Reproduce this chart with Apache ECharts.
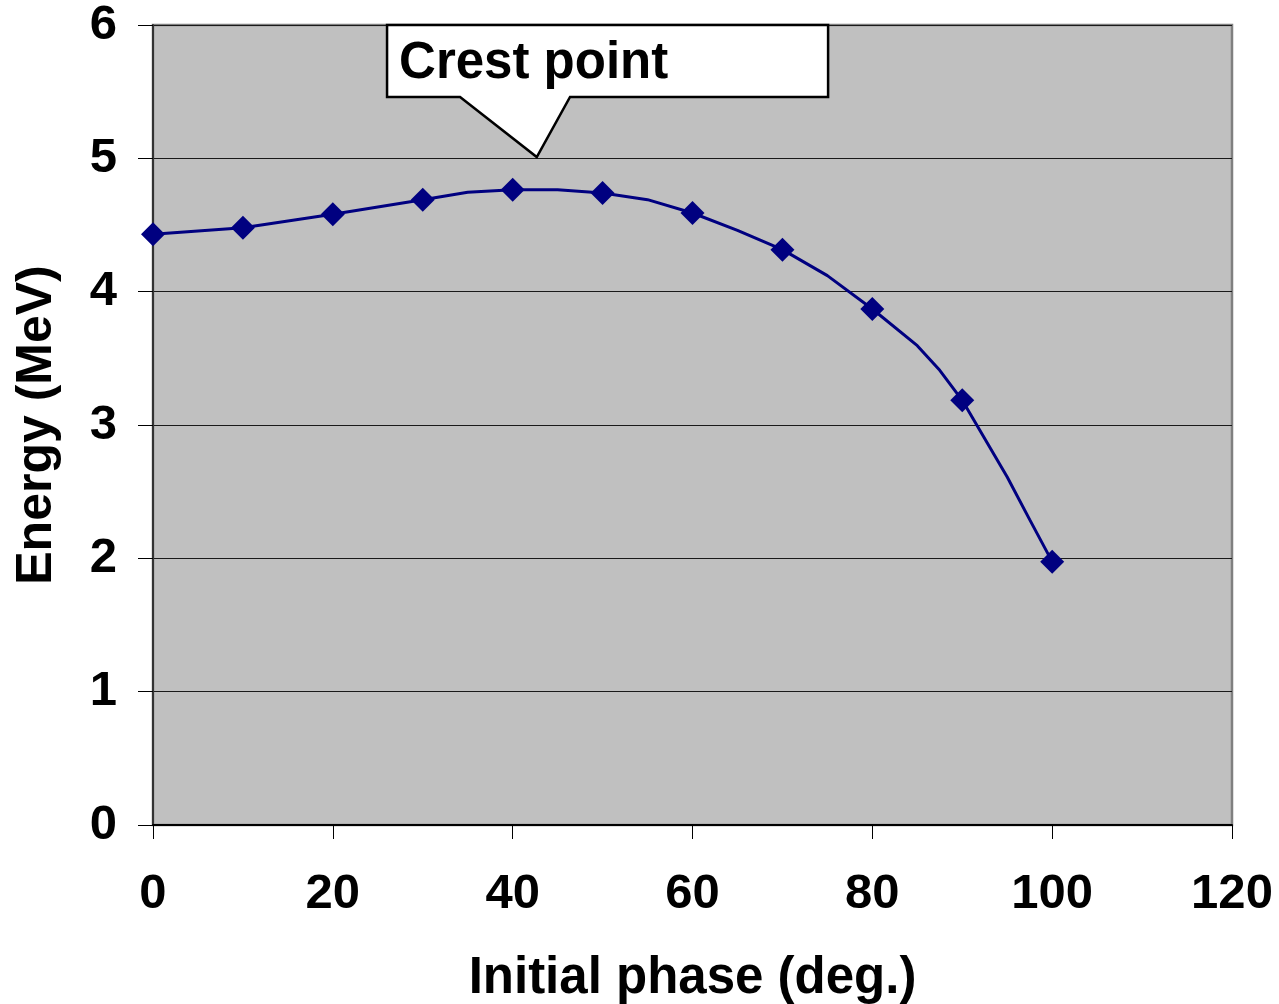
<!DOCTYPE html>
<html>
<head>
<meta charset="utf-8">
<script src="https://cdn.jsdelivr.net/npm/echarts@6/dist/echarts.min.js"></script>
<style>
html,body{margin:0;padding:0;background:#fff;}
#chart{width:1279px;height:1004px;}
</style>
</head>
<body>
<div id="chart"></div>
<script>
// Data
var phase  = [0, 10, 20, 30, 35, 40, 45, 50, 55, 60, 65, 70, 75, 80, 85, 87.5, 90, 95, 97.5, 100];
var energy = [4.43, 4.48, 4.58, 4.69, 4.745, 4.765, 4.765, 4.74, 4.69, 4.59, 4.46, 4.315, 4.12, 3.87, 3.595, 3.41, 3.185, 2.61, 2.29, 1.975];
var markerPhase = [0, 10, 20, 30, 40, 50, 60, 70, 80, 90, 100];
var xTicks = [0, 20, 40, 60, 80, 100, 120];
var yTicks = [0, 1, 2, 3, 4, 5, 6];
var calloutText = 'Crest point';
// callout anchor in data space: tip x, tip y, box x0, box y-top, box x1, box y-bottom, base x0, base x1
var callout = [42.68, 5.01, 26.03, 6.0, 75.08, 5.46, 34.15, 46.38];

var FONT = '"Liberation Sans", Arial, Helvetica, sans-serif';
var chart = echarts.init(document.getElementById('chart'), null, {renderer: 'canvas'});

var lineData = phase.map(function (p, i) {
  return {value: [p, energy[i]], symbol: markerPhase.indexOf(p) >= 0 ? 'diamond' : 'none'};
});

chart.setOption({
  animation: false,
  backgroundColor: '#ffffff',
  grid: {
    left: 153, top: 25, right: 47, bottom: 179,
    outerBoundsMode: 'none', containLabel: false,
    show: true, backgroundColor: '#C0C0C0', borderColor: '#808080', borderWidth: 2.5
  },
  xAxis: {
    type: 'value', min: xTicks[0], max: xTicks[xTicks.length - 1], interval: xTicks[1] - xTicks[0],
    name: 'Initial phase (deg.)', nameLocation: 'middle', nameGap: 128,
    nameTextStyle: {fontFamily: FONT, fontWeight: 'bold', fontSize: 51, color: '#000'},
    axisLine: {show: true, onZero: false, lineStyle: {color: '#000', width: 2}},
    axisTick: {show: true, inside: false, length: 14, lineStyle: {color: '#000', width: 1}},
    axisLabel: {fontFamily: FONT, fontWeight: 'bold', fontSize: 49, color: '#000', margin: 45},
    splitLine: {show: false}
  },
  yAxis: {
    type: 'value', min: yTicks[0], max: yTicks[yTicks.length - 1], interval: yTicks[1] - yTicks[0],
    name: 'Energy (MeV)', nameLocation: 'middle', nameGap: 91, nameRotate: 90,
    nameTextStyle: {fontFamily: FONT, fontWeight: 'bold', fontSize: 50, color: '#000'},
    axisLine: {show: true, onZero: false, lineStyle: {color: '#333', width: 2}},
    axisTick: {show: true, inside: false, length: 15, lineStyle: {color: '#000', width: 1}},
    axisLabel: {fontFamily: FONT, fontWeight: 'bold', fontSize: 49, color: '#000', margin: 36},
    splitLine: {show: true, lineStyle: {color: '#1a1a1a', width: 1.2}}
  },
  series: [
    {
      type: 'line',
      data: lineData,
      showSymbol: true,
      symbolSize: 24,
      lineStyle: {color: '#000080', width: 3},
      itemStyle: {color: '#000080'},
      z: 3
    },
    {
      type: 'custom',
      coordinateSystem: 'cartesian2d',
      clip: false,
      z: 10,
      data: [callout],
      renderItem: function (params, api) {
        var tip = api.coord([api.value(0), api.value(1)]);
        var tl = api.coord([api.value(2), api.value(3)]);
        var br = api.coord([api.value(4), api.value(5)]);
        var b0 = api.coord([api.value(6), api.value(5)]);
        var b1 = api.coord([api.value(7), api.value(5)]);
        var pts = [
          [tl[0], tl[1]], [br[0], tl[1]], [br[0], br[1]],
          [b1[0], br[1]], [tip[0], tip[1]], [b0[0], br[1]], [tl[0], br[1]]
        ];
        return {
          type: 'group',
          children: [
            {
              type: 'polygon',
              shape: {points: pts},
              style: {fill: '#ffffff', stroke: '#000000', lineWidth: 2.5, lineJoin: 'miter'}
            },
            {
              type: 'text',
              x: tl[0] + 12,
              y: (tl[1] + br[1]) / 2 + 3,
              style: {
                text: calloutText, fill: '#000', fontFamily: FONT, fontWeight: 'bold',
                fontSize: 51, align: 'left', verticalAlign: 'middle'
              }
            }
          ]
        };
      }
    }
  ]
});
</script>
</body>
</html>
